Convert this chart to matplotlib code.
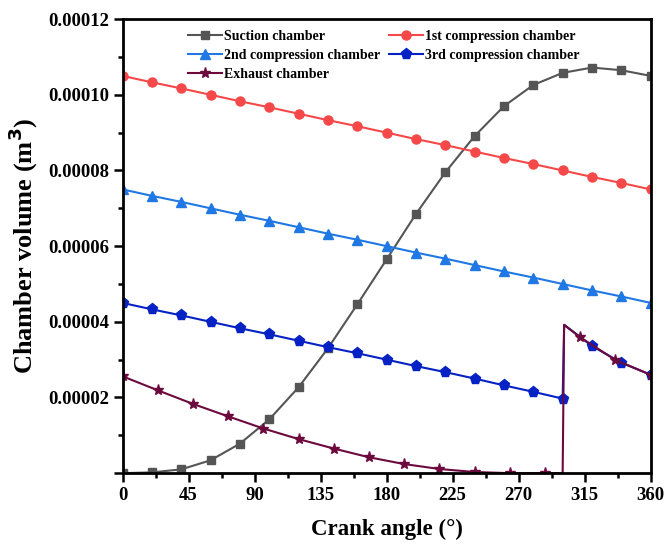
import matplotlib
matplotlib.use('Agg')
import numpy as np
import matplotlib.pyplot as plt
from matplotlib.ticker import MultipleLocator, FuncFormatter

# - Data (volumes in m^3 x 1e-5) -
angle_20 = [0, 20, 40, 60, 80, 100, 120, 140, 160, 180, 200, 220, 240, 260, 280, 300, 320, 340, 360]
suction = [0.0, 0.02, 0.10, 0.34, 0.78, 1.42, 2.27, 3.30, 4.46, 5.65, 6.85, 7.95, 8.91, 9.70, 10.26,
           10.58, 10.72, 10.65, 10.50]
comp1 = [10.50, 10.33, 10.17, 10.00, 9.83, 9.67, 9.50, 9.33, 9.17, 9.00, 8.83, 8.67, 8.50, 8.33, 8.17,
         8.00, 7.83, 7.67, 7.50]
comp2 = [7.50, 7.33, 7.17, 7.00, 6.83, 6.67, 6.50, 6.33, 6.17, 6.00, 5.83, 5.67, 5.50, 5.33, 5.17,
         5.00, 4.83, 4.67, 4.50]

angle_3rd = [0, 20, 40, 60, 80, 100, 120, 140, 160, 180, 200, 220, 240, 260, 280, 300, 301, 320, 340, 360]
comp3 = [4.50, 4.33, 4.17, 4.00, 3.83, 3.67, 3.50, 3.33, 3.17, 3.00, 2.83, 2.67, 2.50, 2.32, 2.15,
         1.97, 3.92, 3.36, 2.92, 2.60]

angle_exh = [0, 24, 48, 72, 96, 120, 144, 168, 192, 216, 240, 264, 288, 300, 301, 312, 336, 360]
exhaust = [2.56, 2.19, 1.83, 1.50, 1.18, 0.90, 0.65, 0.42, 0.24, 0.11, 0.03, 0.0, 0.0, 0.0,
           3.92, 3.59, 2.99, 2.60]

scale = 1e-5

plt.rcParams['font.family'] = ['Liberation Serif', 'DejaVu Serif']
plt.rcParams['font.weight'] = 'bold'

fig = plt.figure(figsize=(6.66, 5.47), dpi=100)
ax = fig.add_axes([0.184, 0.135, 0.793, 0.830])

lw = 1.5
l_suc, = ax.plot(angle_20, np.array(suction) * scale, color='#555555', lw=lw,
                 marker='s', ms=5.5, label='Suction chamber')
l_c1, = ax.plot(angle_20, np.array(comp1) * scale, color='#F54848', lw=lw,
                marker='o', ms=6.5, label='1st compression chamber')
l_c2, = ax.plot(angle_20, np.array(comp2) * scale, color='#1F78E3', lw=lw,
                marker='^', ms=7, label='2nd compression chamber')
mk3 = [i for i in range(len(angle_3rd)) if angle_3rd[i] != 301]
l_c3, = ax.plot(angle_3rd, np.array(comp3) * scale, color='#0622C4', lw=lw,
                marker='p', ms=8, markevery=mk3, label='3rd compression chamber')
mke = [i for i in range(len(angle_exh)) if angle_exh[i] % 24 == 0]
l_exh, = ax.plot(angle_exh, np.array(exhaust) * scale, color='#6C0A3E', lw=lw,
                 marker='*', ms=8, markevery=mke, label='Exhaust chamber')

ax.set_xlim(0, 360)
ax.set_ylim(0, 0.00012)
ax.xaxis.set_major_locator(MultipleLocator(45))
ax.xaxis.set_minor_locator(MultipleLocator(22.5))
ax.yaxis.set_major_locator(MultipleLocator(0.00002))
ax.yaxis.set_minor_locator(MultipleLocator(0.00001))
ax.yaxis.set_major_formatter(FuncFormatter(lambda v, p: '' if abs(v) < 1e-12 else '%.5f' % v))

ax.tick_params(which='both', direction='out', width=1.8, top=False, right=False, labelsize=13.5)
ax.tick_params(which='major', length=6.3)
ax.tick_params(which='minor', length=3.5)
for s in ax.spines.values():
    s.set_linewidth(2)

ax.set_xlabel('Crank angle (°)', fontsize=16.5, fontweight='bold', labelpad=11)
ax.set_ylabel('Chamber volume (m$^\\mathbf{3}$)', fontsize=19, fontweight='bold', labelpad=6)

ax.legend(handles=[l_suc, l_c2, l_exh, l_c1, l_c3], ncol=2, frameon=False,
          loc='upper left', bbox_to_anchor=(0.101, 1.004), fontsize=10,
          handlelength=2.4, columnspacing=0.63, labelspacing=0.45, handletextpad=0.2)

fig.savefig('out.png', dpi=100)
